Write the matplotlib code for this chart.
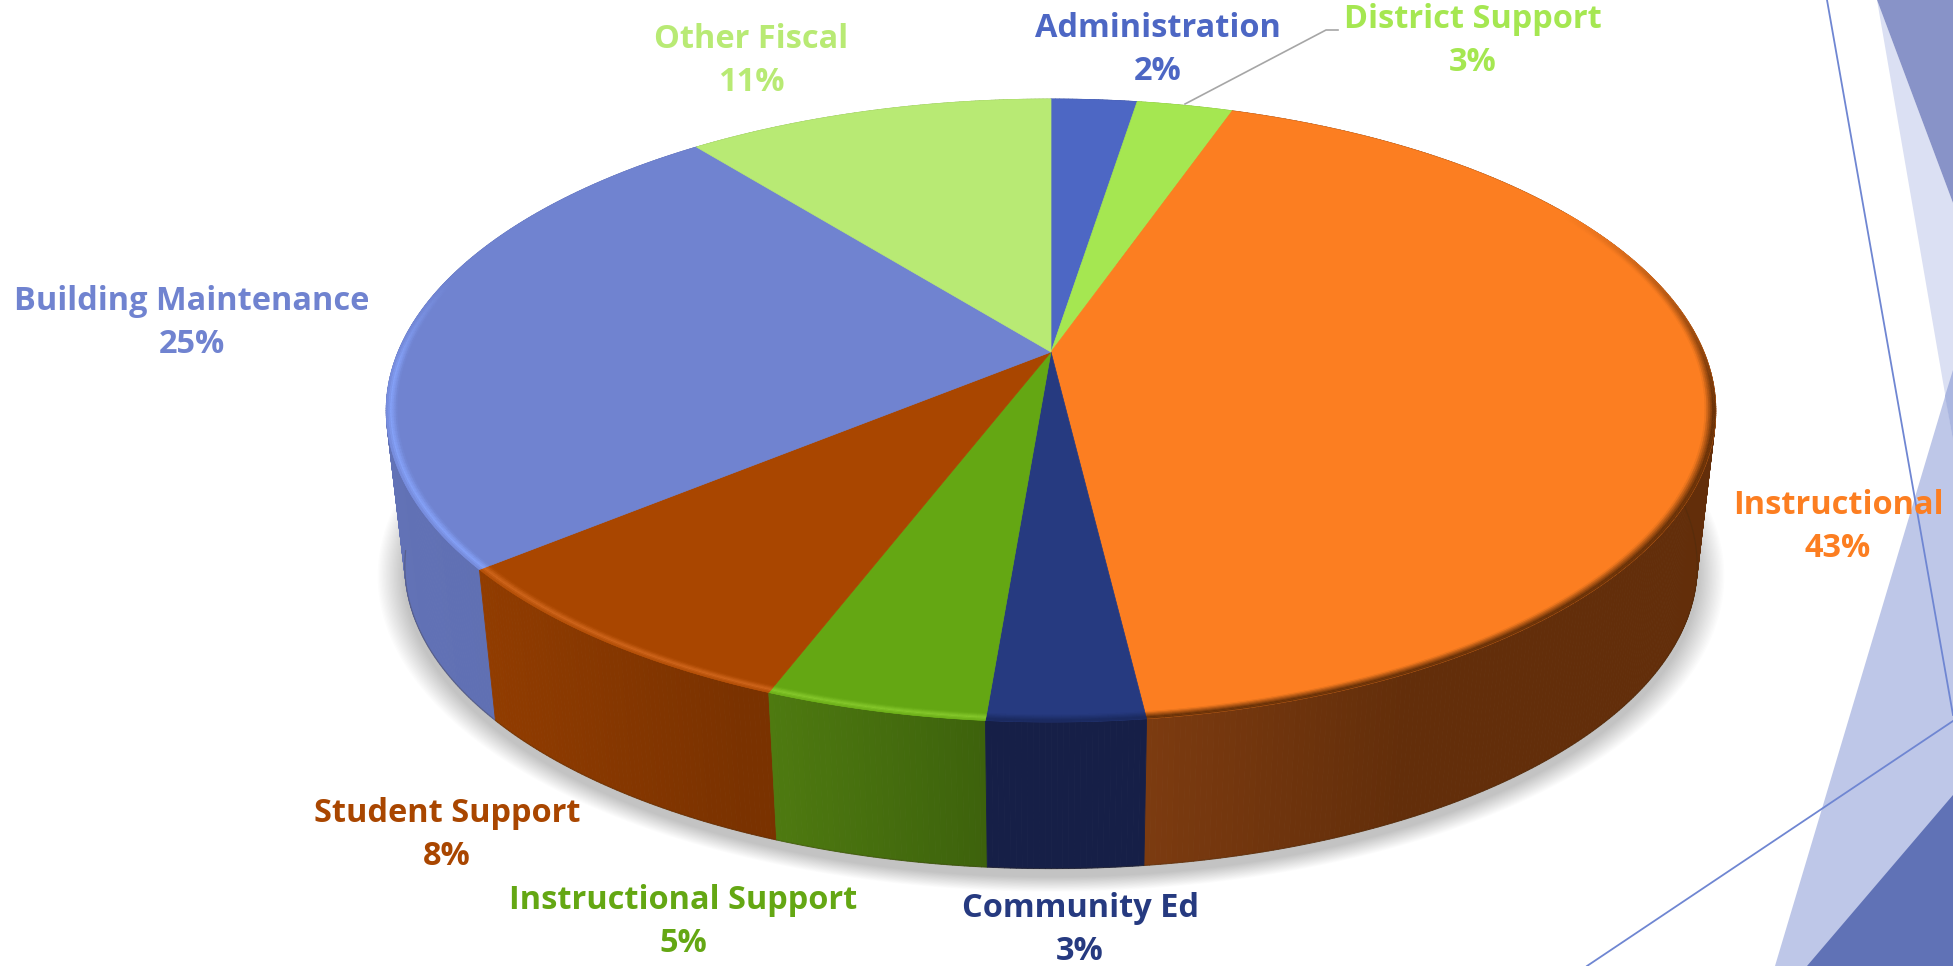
import numpy as np
import matplotlib
matplotlib.use("Agg")
import matplotlib.pyplot as plt
from matplotlib.collections import PolyCollection
from matplotlib.colors import to_rgb

# ---- data (clockwise from 12 o'clock) ----
categories = ["Administration", "District Support", "Instructional", "Community Ed",
              "Instructional Support", "Student Support", "Building Maintenance", "Other Fiscal"]
values = [2.5, 2.8, 42.8, 3.2, 4.5, 8.2, 25.3, 10.7]
percent_labels = ["2%", "3%", "43%", "3%", "5%", "8%", "25%", "11%"]

# ---- styles ----
top_colors = ["#4D67C4", "#A5E751", "#FC7E21", "#263A80", "#64A713", "#A94600", "#7083D0", "#B8EA74"]
text_colors = top_colors
wall_left = ["#3A4E94", "#7CAE3D", "#7C3B10", "#161F47", "#4E7A10", "#913C00", "#6272B6", "#8AB058"]
wall_right = ["#3A4E94", "#7CAE3D", "#632E0A", "#161F47", "#3D620C", "#7A3200", "#5B6BAE", "#8AB058"]
rim_colors = ["#4D67C4", "#A5E751", "#6A3208", "#1B2A60", "#86C92C", "#D0661C", "#86A2F8", "#B8EA74"]
label_pos = [(1158, 50), (1473, 41), (1838, 527), (1080, 930), (683, 922), (447, 835), (192, 323), (751, 61)]

W, H = 1953, 966
fig = plt.figure(figsize=(W / 100, H / 100), dpi=100)
ax = fig.add_axes([0, 0, 1, 1])
ax.set_xlim(0, W)
ax.set_ylim(H, 0)
ax.axis("off")

# ---- slide decoration ----
ax.fill([1775, 1953, 1953], [966, 370, 966], color="#BEC7E8", lw=0, zorder=1)
ax.fill([1877, 1953, 1953], [0, 203, 440], color="#DBE0F3", lw=0, zorder=1)
ax.fill([1945, 1953, 1953], [396, 370, 440], color="#AAB6E0", lw=0, zorder=1.1)
ax.fill([1877, 1953, 1953], [0, 203, 0], color="#8893C8", lw=0, zorder=1.2)
ax.fill([1807, 1953, 1953], [966, 795, 966], color="#6072B6", lw=0, zorder=1.2)
ax.plot([1827, 1953], [0, 715], color="#6F86D2", lw=1.3, zorder=1.3)
ax.plot([1587, 1953], [966, 721], color="#6F86D2", lw=1.3, zorder=1.3)

# ---- perspective model of the pie disc ----
CX, CY, A, B, K = 1051, 352, 653, 300.5, 0.1878
BOT_CY, BOT_S = 509, 0.972


def project(theta, r=1.0, cy=CY, s=1.0):
    """theta clockwise from the far point (radians)."""
    u, v = r * np.sin(theta), r * np.cos(theta)
    w = 1 + K * v
    return CX + s * A * u / w, cy - s * B * v / w


def mix(c1, c2, t):
    a, b = np.array(to_rgb(c1)), np.array(to_rgb(c2))
    return tuple(a + (b - a) * t)


fractions = np.array(values) / np.sum(values)
edges = np.concatenate([[0], np.cumsum(fractions)]) * 2 * np.pi

# soft ground shadow
th = np.linspace(0, 2 * np.pi, 361)
for i in range(20):
    grow = 1.042 - i * 0.0021
    x, y = project(th, 1.0, BOT_CY + 8, BOT_S * grow)
    ax.fill(x, y, color="black", alpha=0.0105, lw=0, zorder=2)

# outer wall: thin vertical quads, far ones first
quads, qcols = [], []
for i, (t0, t1) in enumerate(zip(edges[:-1], edges[1:])):
    ts = np.linspace(t0, t1, max(4, int((t1 - t0) * 140)))
    xt, yt = project(ts)
    xb, yb = project(ts, 1.0, BOT_CY, BOT_S)
    xl, xr = xt.min(), xt.max()
    span = min(xr - xl, 260) or 1
    for j in range(len(ts) - 1):
        quads.append([(xt[j], yt[j]), (xt[j + 1], yt[j + 1]), (xb[j + 1], yb[j + 1]), (xb[j], yb[j])])
        tt = np.clip((0.5 * (xt[j] + xt[j + 1]) - xl) / span, 0, 1)
        qcols.append(mix(wall_left[i], wall_right[i], tt))
order = np.argsort([q[0][1] for q in quads])
ax.add_collection(PolyCollection([quads[o] for o in order], facecolors=[qcols[o] for o in order],
                                 edgecolors=[qcols[o] for o in order], linewidths=0.6, zorder=3))

# thin dark line at foot of wall
xf, yf = project(np.radians(np.linspace(75, 262, 300)), 1.0, BOT_CY, BOT_S)
ax.plot(xf, yf, color="#3a2a10", alpha=0.25, lw=0.9, zorder=3.2)

# top wedges
for i, (t0, t1) in enumerate(zip(edges[:-1], edges[1:])):
    ts = np.linspace(t0, t1, 200)
    x, y = project(ts)
    ax.fill(np.r_[CX, x], np.r_[CY, y], facecolor=top_colors[i], edgecolor=top_colors[i], lw=0.5, zorder=4)


# rim bevel: lighter on the front left, darker on the right
def rim_weight(theta):
    d = np.degrees(theta)
    if d < 60 or d > 285:
        return 0.0
    if d < 100:
        return (d - 60) / 40
    if d > 268:
        return (285 - d) / 17
    return 1.0


rim_quads, rim_cols = [], []
radii = np.linspace(0.984, 1.0, 7)
for i, (t0, t1) in enumerate(zip(edges[:-1], edges[1:])):
    ts = np.linspace(t0, t1, max(4, int((t1 - t0) * 90)))
    for a0, a1 in zip(ts[:-1], ts[1:]):
        wt = rim_weight(0.5 * (a0 + a1))
        if wt <= 0:
            continue
        for r0, r1 in zip(radii[:-1], radii[1:]):
            rm = 0.5 * (r0 + r1)
            if i == 2 or i == 3:
                prof = np.clip((rm - 0.984) / 0.012, 0, 1)
            else:
                prof = np.clip(1 - abs(rm - 0.993) / 0.009, 0, 1)
            x0, y0 = project(a0, r0)
            x1, y1 = project(a1, r0)
            x2, y2 = project(a1, r1)
            x3, y3 = project(a0, r1)
            rim_quads.append([(x0, y0), (x1, y1), (x2, y2), (x3, y3)])
            rim_cols.append(mix(top_colors[i], rim_colors[i], prof * wt))
ax.add_collection(PolyCollection(rim_quads, facecolors=rim_cols, edgecolors=rim_cols,
                                 linewidths=0.3, zorder=4.5))

# labels
for name, pct, col, (lx, ly) in zip(categories, percent_labels, text_colors, label_pos):
    ax.text(lx, ly, f"{name}\n{pct}", color=col, ha="center", va="center", fontsize=23.4,
            fontweight="bold", family="Open Sans", linespacing=1.38, zorder=6)

# leader line for District Support
ax.plot([1185, 1326, 1338], [104, 30, 30], color="#A6A6A6", lw=1.2, zorder=5)

fig.savefig("out.png", dpi=100)
